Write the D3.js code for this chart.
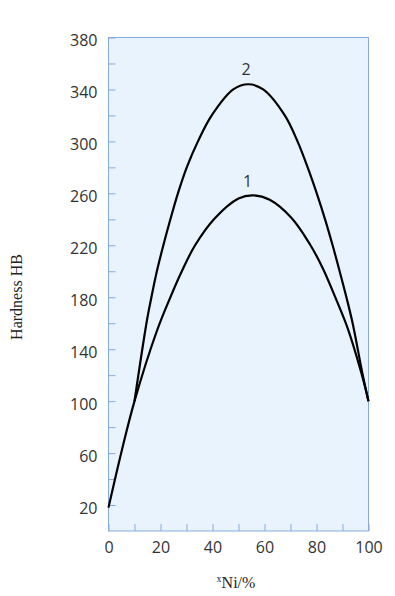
<!DOCTYPE html>
<html>
<head>
<meta charset="utf-8">
<script src="https://cdn.jsdelivr.net/npm/d3@7"></script>
<style>
  html, body { margin: 0; padding: 0; background: #fff; }
  svg { display: block; }
</style>
</head>
<body>
<div id="chart"></div>
<script>
// curve 1
var x1 = [0, 5, 10, 18.6, 23.8, 28.2, 33.3, 41, 50, 55.5, 62, 70.4, 77.4, 82.5, 87, 92, 97.2, 100];
var y1 = [18, 61, 100, 154, 180, 200, 220, 241, 256, 258.5, 255, 241, 221, 202, 181, 156, 122, 100];
// curve 2
var x2 = [10, 14.6, 16.5, 18.6, 21.1, 23.8, 26.7, 30.1, 34.4, 39.7, 48, 53.8, 59.5, 67.8, 72.7, 76.6, 80.1, 83.3, 86.2, 88.9, 91.5, 93.9, 97.7, 100];
var y2 = [100, 160, 180, 200, 220, 240, 260, 280, 300, 320, 340, 344, 340, 320, 300, 280, 260, 240, 220, 200, 180, 160, 121, 100];

var xTickLabels = [0, 20, 40, 60, 80, 100];
var yTickLabels = [20, 60, 100, 140, 180, 220, 260, 300, 340, 380];
var curveNames = ["1", "2"];
var namePos = [[53.5, 265], [52.9, 351]];

var W = 395, H = 596;
var pLeft = 108.5, pRight = 368.5, pTop = 37.5, pBottom = 531;

var svg = d3.select("#chart").append("svg")
    .attr("width", W)
    .attr("height", H);

var x = d3.scaleLinear().domain([0, 100]).range([pLeft, pRight]);
var y = d3.scaleLinear().domain([0, 380]).range([pBottom, pTop]);

svg.append("rect")
    .attr("x", pLeft).attr("y", pTop)
    .attr("width", pRight - pLeft).attr("height", pBottom - pTop)
    .attr("fill", "#e9f3fe")
    .attr("stroke", "#86abdc")
    .attr("stroke-width", 1);

var numFont = "'Open Sans', 'Noto Sans', sans-serif";

// x axis, ticks pointing inward
var xAxis = svg.append("g")
    .attr("transform", "translate(0," + pBottom + ")")
    .call(d3.axisBottom(x).tickValues(d3.range(0, 101, 10)).tickSizeInner(-7).tickSizeOuter(0)
        .tickFormat(function(d){ return xTickLabels.indexOf(d) >= 0 ? d : ""; }));
xAxis.select(".domain").remove();
xAxis.selectAll(".tick line").attr("stroke", "#86abdc");
xAxis.selectAll(".tick text")
    .attr("y", 22).attr("dy", 0)
    .attr("fill", "#333")
    .style("font-family", numFont).style("font-size", "16px");

// y axis
var yAxis = svg.append("g")
    .attr("transform", "translate(" + pLeft + ",0)")
    .call(d3.axisLeft(y).tickValues(d3.range(20, 381, 20)).tickSizeInner(-7).tickSizeOuter(0)
        .tickFormat(function(d){ return yTickLabels.indexOf(d) >= 0 ? d : ""; }));
yAxis.select(".domain").remove();
yAxis.selectAll(".tick line").attr("stroke", "#86abdc");
yAxis.selectAll(".tick text")
    .attr("x", -11).attr("dy", "0.5em")
    .attr("fill", "#333")
    .style("font-family", numFont).style("font-size", "16px");

var line = d3.line()
    .x(function(d){ return x(d[0]); })
    .y(function(d){ return y(d[1]); })
    .curve(d3.curveCatmullRom.alpha(0.5));

var series = [d3.zip(x1, y1), d3.zip(x2, y2)];

svg.selectAll("path.curve")
    .data(series)
    .enter()
    .append("path")
    .attr("class", "curve")
    .attr("d", line)
    .attr("fill", "none")
    .attr("stroke", "#000")
    .attr("stroke-width", 2.2);

svg.selectAll("text.cname")
    .data(curveNames)
    .enter()
    .append("text")
    .attr("class", "cname")
    .attr("x", function(d, i){ return x(namePos[i][0]); })
    .attr("y", function(d, i){ return y(namePos[i][1]); })
    .attr("text-anchor", "middle")
    .attr("fill", "#333")
    .style("font-family", numFont).style("font-size", "16px")
    .text(function(d){ return d; });

// axis titles
var xt = svg.append("text")
    .attr("x", 236).attr("y", 588)
    .attr("text-anchor", "middle")
    .attr("fill", "#222")
    .style("font-family", "'Liberation Serif', 'DejaVu Serif', serif")
    .style("font-size", "16px");
xt.append("tspan").attr("dy", -6).style("font-size", "10px").text("x");
xt.append("tspan").attr("dy", 6).text("Ni/%");

svg.append("text")
    .attr("transform", "translate(22,297) rotate(-90)")
    .attr("text-anchor", "middle")
    .attr("fill", "#222")
    .style("font-family", "'Liberation Serif', 'DejaVu Serif', serif")
    .style("font-size", "16px")
    .text("Hardness HB");
</script>
</body>
</html>
